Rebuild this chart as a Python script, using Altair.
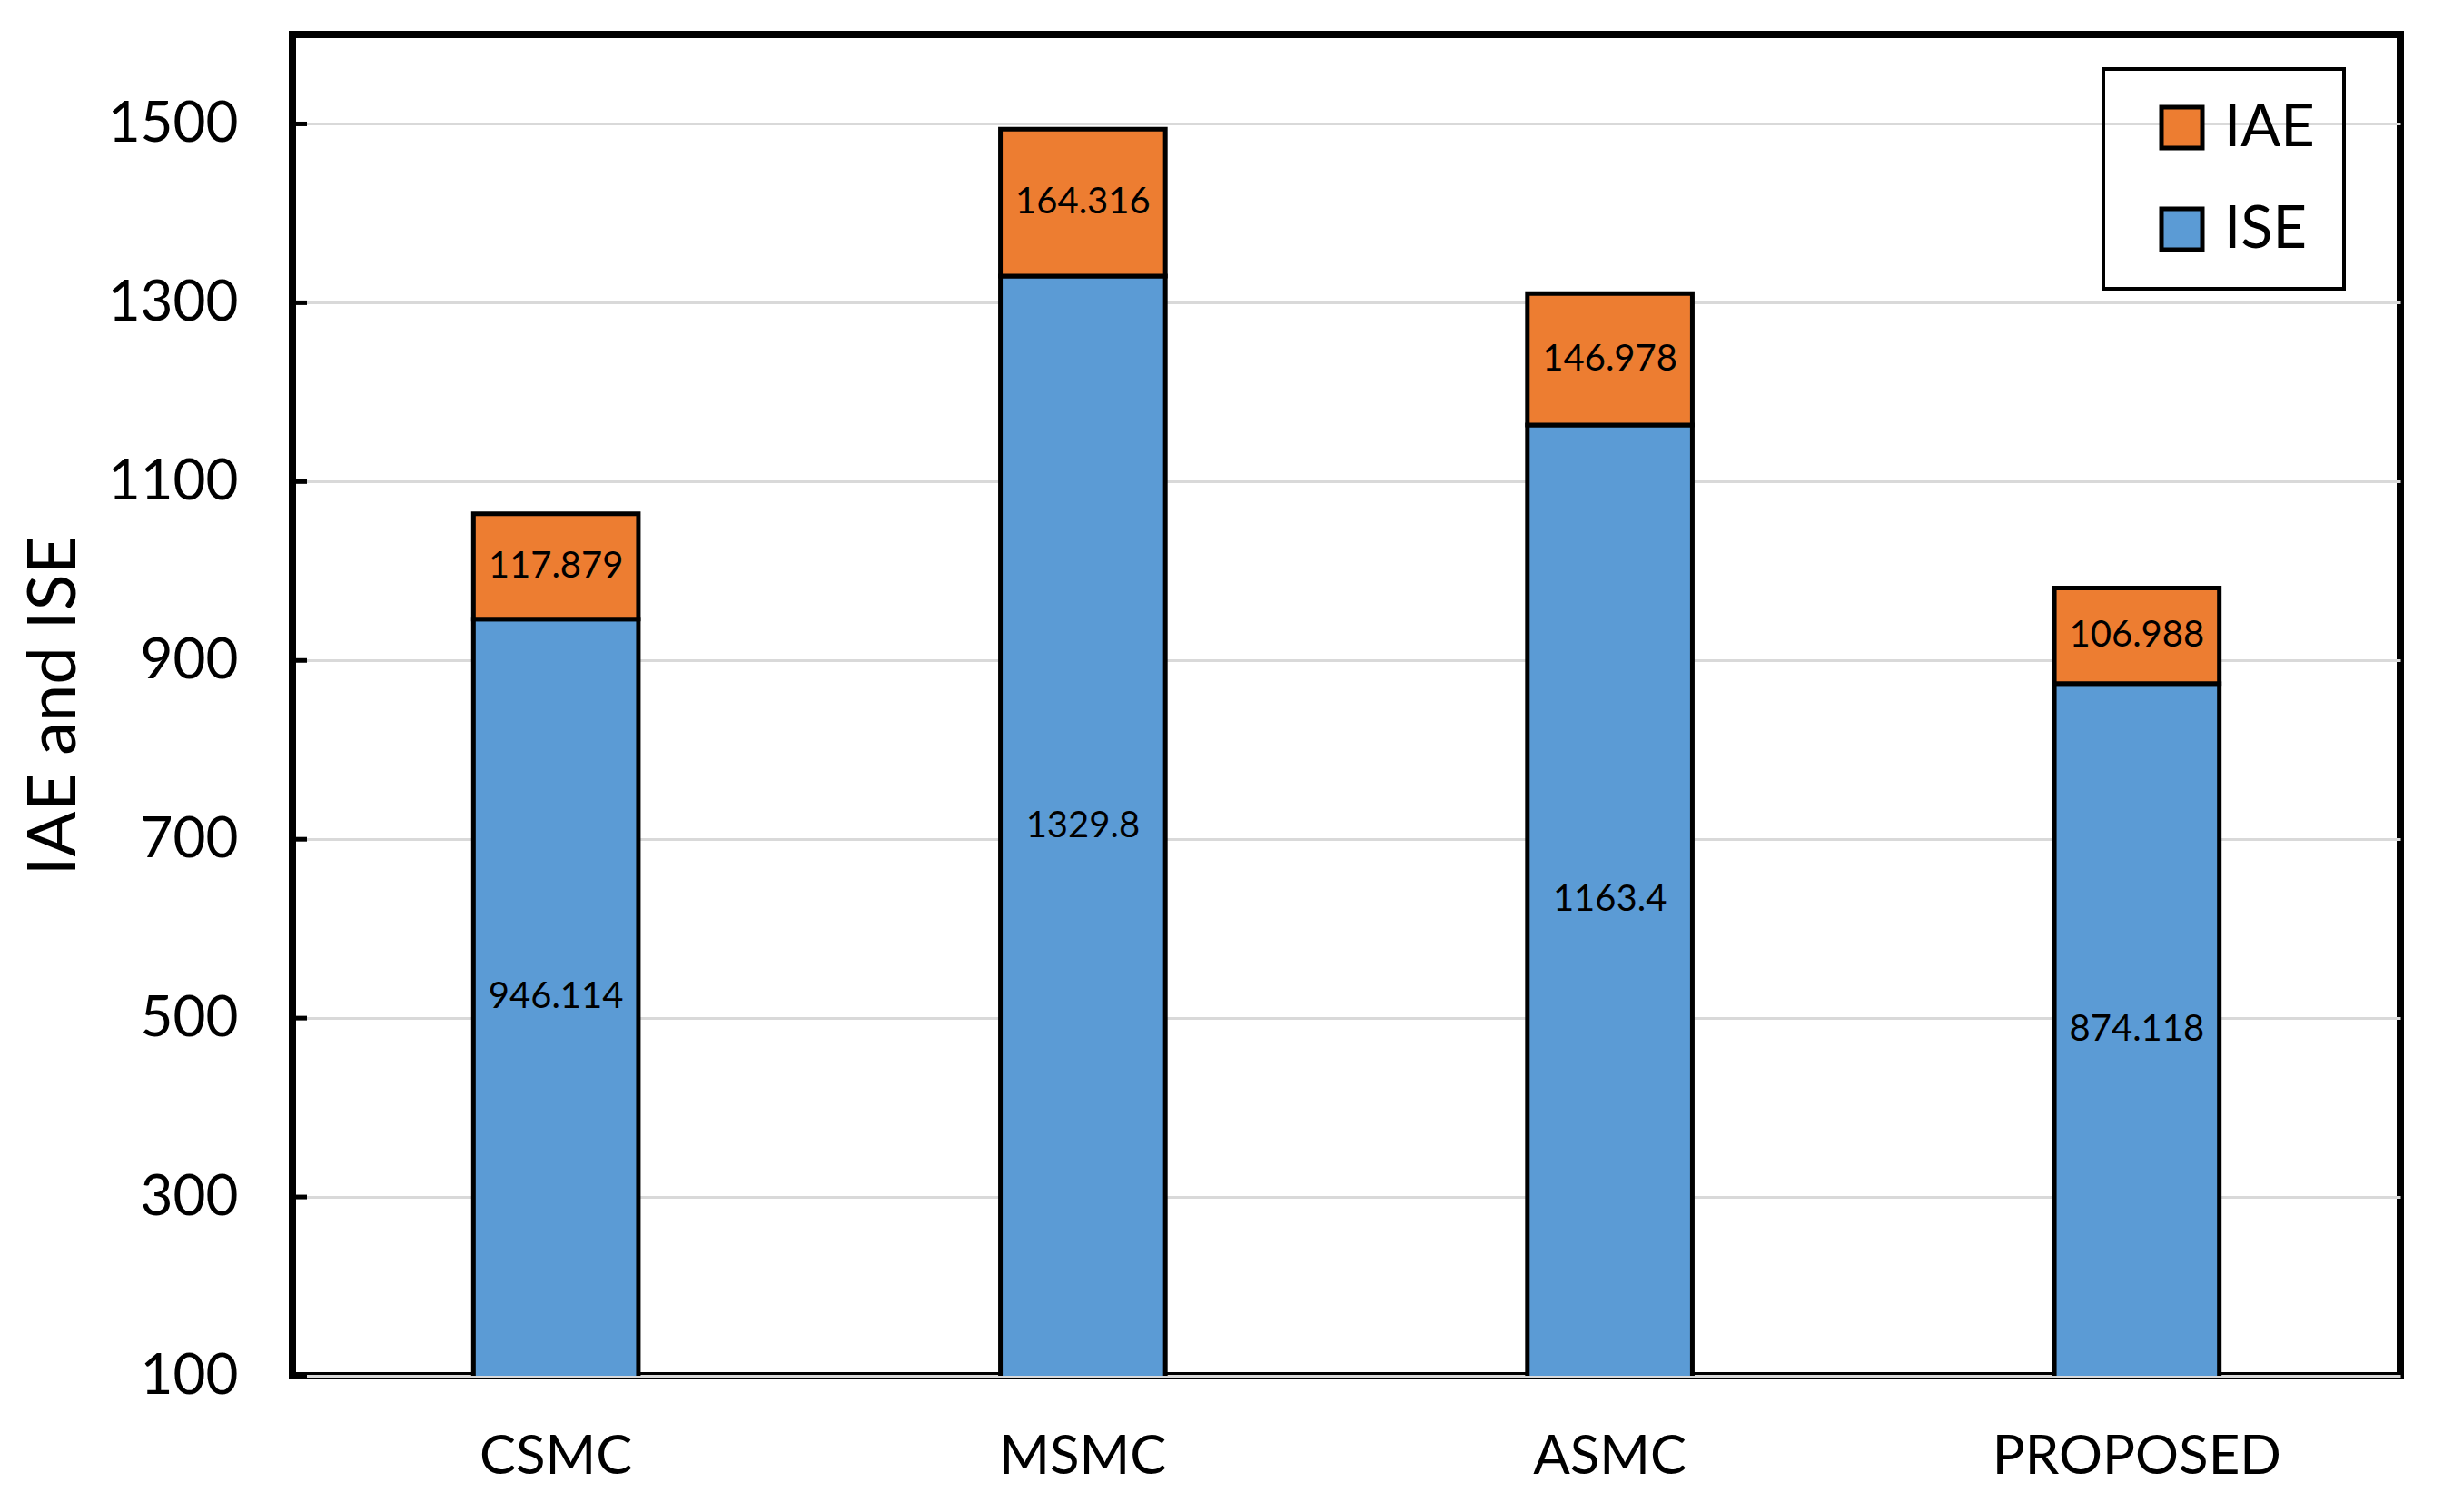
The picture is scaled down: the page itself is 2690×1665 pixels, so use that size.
import altair as alt
import pandas as pd

methods = ["CSMC", "MSMC", "ASMC", "PROPOSED"]
ise = [946.114, 1329.8, 1163.4, 874.118]
iae = [117.879, 164.316, 146.978, 106.988]
ise_labels = ["946.114", "1329.8", "1163.4", "874.118"]
iae_labels = ["117.879", "164.316", "146.978", "106.988"]
y_ticks = [100, 300, 500, 700, 900, 1100, 1300, 1500]
y_min, y_max = 100, 1600

rows = []
for m, s, a, sl, al in zip(methods, ise, iae, ise_labels, iae_labels):
    rows.append({"method": m, "series": "ISE", "start": 0, "end": s,
                 "mid": (max(0, y_min) + s) / 2, "label": sl})
    rows.append({"method": m, "series": "IAE", "start": s, "end": s + a,
                 "mid": s + a / 2, "label": al})
df = pd.DataFrame(rows)
ticks_df = pd.DataFrame({"t": y_ticks})

FONT = "Lato"
yscale = alt.Scale(domain=[y_min, y_max], nice=False, zero=False)
xscale = alt.Scale(paddingInner=0.687, paddingOuter=0.3435)

x_enc = alt.X("method:N", sort=methods, scale=xscale,
              axis=alt.Axis(title=None, labelAngle=0, ticks=False, domain=False,
                            labelFontSize=60, labelPadding=60, labelFont=FONT,
                            labelColor="black", labelLimit=0))

bars = alt.Chart(df).mark_bar(stroke="black", strokeWidth=5, clip=True).encode(
    x=x_enc,
    y=alt.Y("start:Q", scale=yscale,
            axis=alt.Axis(title="IAE and ISE", values=y_ticks, format="d", ticks=False,
                          domain=False, labelFontSize=62, labelFont=FONT,
                          labelColor="black", labelPadding=60,
                          titleFontSize=74, titleFont=FONT, titleColor="black",
                          titleFontWeight="normal", titlePadding=24,
                          grid=True, gridColor="#D9D9D9", gridWidth=3)),
    y2="end:Q",
    color=alt.Color("series:N",
                    scale=alt.Scale(domain=["IAE", "ISE"], range=["#ED7D31", "#5B9BD5"]),
                    legend=alt.Legend(title=None, orient="none", legendX=1994, legendY=38,
                                      symbolType="square", symbolSize=2025,
                                      symbolStrokeColor="black", symbolStrokeWidth=5,
                                      labelFontSize=65, labelFont=FONT, labelColor="black",
                                      labelOffset=14, rowPadding=46, padding=32,
                                      symbolOffset=22,
                                      strokeColor="black")),
)

labels = alt.Chart(df).mark_text(fontSize=40, font=FONT, color="black").encode(
    x=alt.X("method:N", sort=methods, scale=xscale),
    y=alt.Y("mid:Q", scale=yscale),
    text="label:N",
)

tick_marks = alt.Chart(ticks_df).mark_rule(color="black", strokeWidth=5).encode(
    y=alt.Y("t:Q", scale=yscale),
    x=alt.value(0),
    x2=alt.value(16),
)

chart = alt.layer(bars, labels, tick_marks).properties(
    width=2321, height=1477,
    autosize=alt.AutoSizeParams(type="none"),
    padding={"left": 314, "top": 30, "right": 25, "bottom": 120},
).configure_view(stroke="black", strokeWidth=8).configure_legend(strokeWidth=4)

chart.save("out.html", embed_options={"renderer": "svg", "actions": False})
